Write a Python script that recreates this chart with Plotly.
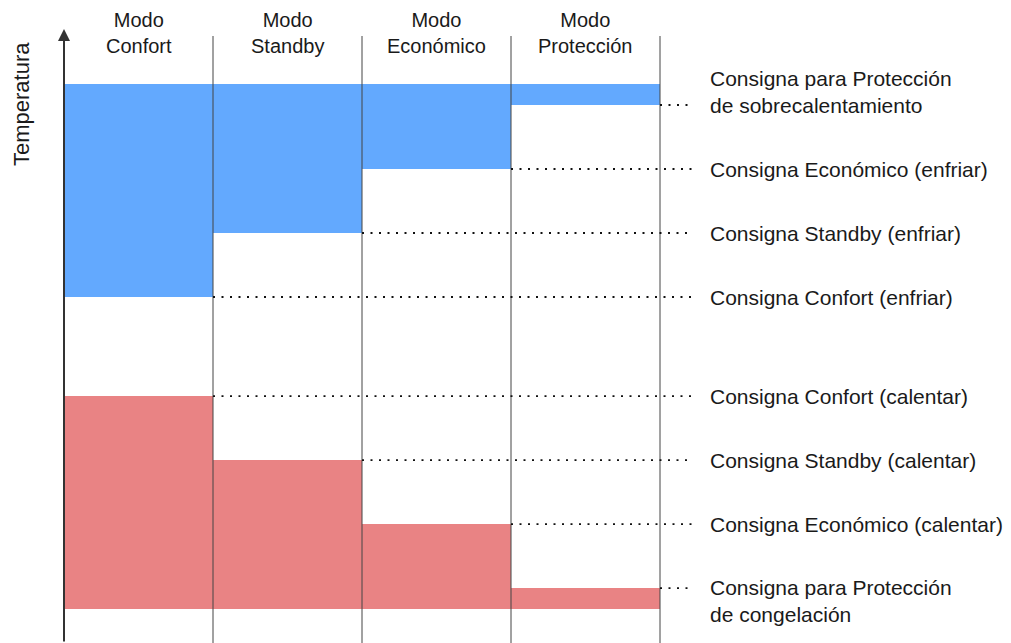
import plotly.graph_objects as go

# ---- data ----
modes = ["Modo<br>Confort", "Modo<br>Standby", "Modo<br>Económico", "Modo<br>Protección"]
cool_setpoints = [26.0, 28.0, 30.0, 32.0]      # Confort, Standby, Económico, Protección
heat_setpoints = [22.9, 20.9, 18.9, 16.9]
ceiling = 32.65
floor_t = 16.25
cool_labels = ["Consigna Confort (enfriar)", "Consigna Standby (enfriar)",
               "Consigna Económico (enfriar)",
               "Consigna para Protección<br>de sobrecalentamiento"]
heat_labels = ["Consigna Confort (calentar)", "Consigna Standby (calentar)",
               "Consigna Económico (calentar)",
               "Consigna para Protección<br>de congelación"]
y_title = "Temperatura"

# ---- layout geometry ----
W, H = 1011, 643
x0_px, col_px = 64, 149
px_per_deg = 32
y_top = 35.28125
y_bot = y_top - H / px_per_deg
x_lo = -x0_px / col_px
x_hi = (W - x0_px) / col_px
dot_end = (692 - x0_px) / col_px
label_x = (708 - x0_px) / col_px
sep_top = y_top - 36 / px_per_deg
arrow_top = y_top - 29 / px_per_deg

FONT = "Liberation Sans, Arial, sans-serif"
BLUE = "#63A9FE"
RED = "#E98384"
TXT = "#1a1a1a"

n = len(modes)
xs = [i + 0.5 for i in range(n)]

fig = go.Figure()
fig.add_trace(go.Bar(x=xs, y=[ceiling - c for c in cool_setpoints], base=cool_setpoints,
                     width=1, marker=dict(color=BLUE, line=dict(width=0)),
                     hoverinfo="skip", showlegend=False))
fig.add_trace(go.Bar(x=xs, y=[h - floor_t for h in heat_setpoints], base=[floor_t] * n,
                     width=1, marker=dict(color=RED, line=dict(width=0)),
                     hoverinfo="skip", showlegend=False))

shapes = []
# column separators
for i in range(1, n + 1):
    shapes.append(dict(type="line", xref="x", yref="y", x0=i, x1=i, y0=y_bot, y1=sep_top,
                       line=dict(color="#444444", width=1), layer="above"))
# dotted setpoint lines
for i in range(n):
    for sp in (cool_setpoints[i], heat_setpoints[i]):
        shapes.append(dict(type="line", xref="x", yref="y", x0=i + 1, x1=dot_end, y0=sp, y1=sp,
                           line=dict(color="#111111", width=1.8, dash="2px,6.5px"), layer="above"))

annotations = []
# axis arrow
annotations.append(dict(x=0, y=arrow_top, ax=0, ay=y_bot, xref="x", yref="y", axref="x", ayref="y",
                        showarrow=True, arrowhead=2, arrowsize=1.2, arrowwidth=2,
                        arrowcolor="#333333", text=""))
# headers
for i, m in enumerate(modes):
    annotations.append(dict(x=xs[i], y=1 - 33 / H, xref="x", yref="paper", text=m,
                            showarrow=False, xanchor="center", yanchor="middle",
                            font=dict(family=FONT, size=20, color=TXT)))
# setpoint labels
for i in range(n):
    for sp, lab, kind in ((cool_setpoints[i], cool_labels[i], "cool"),
                          (heat_setpoints[i], heat_labels[i], "heat")):
        shift = 0
        if "<br>" in lab:
            shift = 13 if kind == "cool" else -13
        annotations.append(dict(x=label_x, y=sp, xref="x", yref="y", text=lab, align="left",
                                showarrow=False, xanchor="left", yanchor="middle", yshift=shift,
                                font=dict(family=FONT, size=21, color=TXT)))
# y title
annotations.append(dict(x=21 / W, y=1 - 104 / H, xref="paper", yref="paper", text=y_title,
                        textangle=-90, showarrow=False, xanchor="center", yanchor="middle",
                        font=dict(family=FONT, size=22, color=TXT)))

fig.update_layout(
    width=W, height=H, margin=dict(l=0, r=0, t=0, b=0),
    paper_bgcolor="white", plot_bgcolor="white",
    xaxis=dict(range=[x_lo, x_hi], visible=False, fixedrange=True),
    yaxis=dict(range=[y_bot, y_top], visible=False, fixedrange=True),
    shapes=shapes, annotations=annotations, barmode="overlay", bargap=0,
)
fig.write_html("out.html", config={"displayModeBar": False},
               post_script="document.body.style.margin='0';document.body.style.overflow='hidden';")
